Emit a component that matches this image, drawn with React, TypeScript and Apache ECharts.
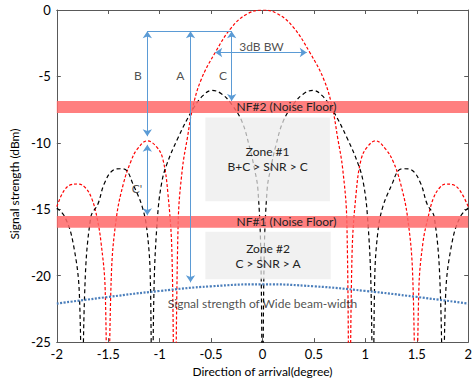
import { useEffect, useRef } from "react";
import * as echarts from "echarts";

// Sum beam (red dashed): [direction (deg), signal strength (dBm)]
const sumBeam: [number, number][] = [
  [-2.0, -14.8], [-1.93, -13.6], [-1.86, -13.15], [-1.79, -13.1], [-1.72, -13.4],
  [-1.66, -14.2], [-1.61, -15.6], [-1.57, -17.5], [-1.53, -21], [-1.505, -34],
  [-1.47, -20], [-1.42, -15.6], [-1.35, -13.0], [-1.28, -11.4], [-1.22, -10.5],
  [-1.12, -9.85], [-1.03, -10.3], [-0.97, -11.2], [-0.92, -13.8], [-0.88, -18.5],
  [-0.855, -34], [-0.82, -16], [-0.78, -12], [-0.73, -9.6], [-0.68, -7.4],
  [-0.6, -5.3], [-0.46, -3.2], [-0.3, -1.3], [-0.15, -0.3], [0, 0],
  [0.15, -0.3], [0.3, -1.3], [0.46, -3.2], [0.6, -5.3], [0.68, -7.4],
  [0.73, -9.6], [0.78, -12], [0.82, -16], [0.845, -34], [0.87, -18.5],
  [0.91, -13.8], [0.96, -11.2], [1.02, -10.3], [1.1, -9.85], [1.2, -10.5],
  [1.27, -11.4], [1.34, -13.0], [1.41, -15.6], [1.46, -20], [1.495, -34],
  [1.52, -21], [1.56, -17.5], [1.61, -15.6], [1.66, -14.2], [1.72, -13.4],
  [1.78, -13.1], [1.85, -13.15], [1.92, -13.6], [2.0, -14.8],
];

// Difference beam (black dashed)
const diffBeam: [number, number][] = [
  [-2.0, -14.9], [-1.92, -15.6], [-1.84, -17.6], [-1.78, -21.5], [-1.755, -34],
  [-1.73, -21.5], [-1.67, -15.6], [-1.6, -14.6], [-1.54, -13.1], [-1.46, -12.1],
  [-1.38, -11.95], [-1.32, -12.1], [-1.26, -13.1], [-1.17, -14.8], [-1.12, -16.8],
  [-1.09, -20.5], [-1.075, -34], [-1.055, -21], [-1.02, -15.5], [-0.98, -13.0],
  [-0.93, -11.6], [-0.82, -9.6], [-0.68, -7.5], [-0.58, -6.45], [-0.49, -6.05],
  [-0.4, -6.3], [-0.3, -7.1], [-0.2, -8.4], [-0.13, -10.2], [-0.08, -11.9],
  [-0.045, -13.5], [-0.015, -19], [0, -34],
  [0.015, -19], [0.045, -13.5], [0.08, -11.9], [0.13, -10.2], [0.2, -8.4],
  [0.3, -7.1], [0.4, -6.3], [0.49, -6.05], [0.58, -6.45], [0.68, -7.5],
  [0.82, -9.6], [0.93, -11.6], [0.98, -13.0], [1.02, -15.5], [1.055, -21],
  [1.075, -34], [1.09, -20.5], [1.12, -16.8], [1.17, -14.8], [1.26, -13.1],
  [1.32, -12.1], [1.38, -11.95], [1.46, -12.1], [1.54, -13.1], [1.6, -14.6],
  [1.67, -15.6], [1.73, -21.5], [1.755, -34], [1.78, -21.5], [1.84, -17.6],
  [1.92, -15.6], [2.0, -14.9],
];

// Wide beam-width (blue dotted)
const wideBeam: [number, number][] = [
  [-2, -22.1], [-1.5, -21.6], [-1, -21.15], [-0.5, -20.8], [0, -20.65],
  [0.5, -20.8], [1, -21.15], [1.5, -21.6], [2, -22.1],
];

// Noise floor bands: [label, top dBm, bottom dBm]
const noiseFloors: [string, number, number][] = [
  ["NF#2 (Noise Floor)", -6.85, -7.75],
  ["NF#1 (Noise Floor)", -15.5, -16.4],
];

// Zones: [label, x1, y1, x2, y2]
const zones: [string, number, number, number, number][] = [
  ["Zone #1\nB+C > SNR > C", -0.556, -8.1, 0.655, -14.4],
  ["Zone #2\nC > SNR > A", -0.556, -16.7, 0.663, -20.27],
];

// Arrows: [x1, y1, x2, y2, withHeads]
const arrows: [number, number, number, number, boolean][] = [
  [-1.12, -1.6, -0.3, -1.6, false],
  [-1.12, -1.6, -1.12, -9.5, true],
  [-1.12, -10.15, -1.12, -15.45, true],
  [-0.7, -1.6, -0.7, -20.5, true],
  [-0.3, -1.6, -0.3, -6.85, true],
  [-0.46, -3.2, 0.43, -3.2, true],
];

// Annotation texts: [x, y, text]
const notes: [number, number, string][] = [
  [-1.213, -4.9, "B"],
  [-0.8, -4.9, "A"],
  [-0.384, -4.9, "C"],
  [-1.22, -13.4, "C'"],
  [-0.01, -2.72, "3dB BW"],
  [0.0, -22.1, "Signal strength of Wide beam-width"],
];

const xMin = -2, xMax = 2, xStep = 0.5;
const yMin = -25, yMax = 0, yStep = 5;

const FONT = "Lato, 'Open Sans', sans-serif";
const AXIS_COLOR = "#595959";

export default function App() {
  const ref = useRef<HTMLDivElement>(null);
  useEffect(() => {
    document.body.style.margin = "0";
    const chart = echarts.init(ref.current!, null, { renderer: "svg" });
    const axisBase = {
      type: "value" as const,
      axisLine: { show: true, onZero: false, lineStyle: { color: AXIS_COLOR, width: 1 } },
      axisTick: { show: true, inside: true, length: 4, lineStyle: { color: AXIS_COLOR } },
      splitLine: { show: false },
    };
    const option: any = {
      animation: false,
      grid: { left: 46, right: 3, top: 10, bottom: 35 },
      xAxis: [
        {
          ...axisBase, min: xMin, max: xMax, interval: xStep, position: "bottom",
          axisLabel: { color: "#000", fontSize: 13, fontFamily: FONT, margin: 5 },
          name: "Direction of arrival(degree)", nameLocation: "middle", nameGap: 18,
          nameTextStyle: { color: "#000", fontSize: 12, fontFamily: FONT },
        },
        { ...axisBase, min: xMin, max: xMax, interval: xStep, position: "top", axisLabel: { show: false } },
      ],
      yAxis: [
        {
          ...axisBase, min: yMin, max: yMax, interval: yStep, position: "left",
          axisLabel: { color: "#000", fontSize: 13, fontFamily: FONT, margin: 6 },
          name: "Signal strength (dBm)", nameLocation: "middle", nameGap: 28,
          nameTextStyle: { color: "#000", fontSize: 12, fontFamily: FONT, padding: [0, 16, 0, 0] },
        },
        { ...axisBase, min: yMin, max: yMax, interval: yStep, position: "right", axisLabel: { show: false } },
      ],
      series: [
        {
          type: "line", data: sumBeam, smooth: 0.4, symbol: "none", z: 2,
          lineStyle: { color: "#ff0000", width: 1.2, type: [3, 2] },
        },
        {
          type: "line", data: diffBeam, smooth: 0.4, symbol: "none", z: 2,
          lineStyle: { color: "#000000", width: 1.2, type: [4, 3] },
        },
        {
          type: "line", data: wideBeam, smooth: true, symbol: "none", z: 3,
          lineStyle: { color: "#4a7ebb", width: 2.2, type: [2, 1.5] },
        },
        {
          type: "line", data: [], z: 4,
          markArea: {
            silent: true, z: 4,
            itemStyle: { color: "rgba(255,105,105,0.85)" },
            label: {
              show: true, position: "inside", offset: [24, 0],
              color: "#222", fontSize: 12, fontFamily: FONT,
            },
            data: noiseFloors.map(([name, t, b]) => [
              { coord: [xMin, t], name }, { coord: [xMax, b] },
            ]),
          },
        },
        {
          type: "line", data: [], z: 5,
          markArea: {
            silent: true, z: 5,
            itemStyle: { color: "rgba(235,235,235,0.72)" },
            label: {
              show: true, position: "inside", color: "#222", fontSize: 12,
              fontFamily: FONT, lineHeight: 15, align: "center",
            },
            data: zones.map(([name, x1, y1, x2, y2]) => [
              { coord: [x1, y1], name }, { coord: [x2, y2] },
            ]),
          },
        },
        {
          type: "line", data: [], z: 6,
          markLine: {
            silent: true, z: 6, symbolSize: 7,
            label: { show: false },
            lineStyle: { color: "#5b9bd5", type: "solid", width: 1 },
            data: arrows.map(([x1, y1, x2, y2, heads]) => [
              { coord: [x1, y1], symbol: heads ? "arrow" : "none" },
              { coord: [x2, y2], symbol: heads ? "arrow" : "none" },
            ]),
          },
        },
        {
          type: "scatter", z: 7, symbolSize: 1, silent: true,
          itemStyle: { color: "rgba(0,0,0,0)" },
          label: {
            show: true, position: "inside", color: "#222", fontSize: 12, fontFamily: FONT,
            formatter: (p: any) => p.value[2],
          },
          data: notes,
        },
      ],
    };
    chart.setOption(option);
    return () => chart.dispose();
  }, []);
  return <div ref={ref} style={{ width: 475, height: 382 }} />;
}
